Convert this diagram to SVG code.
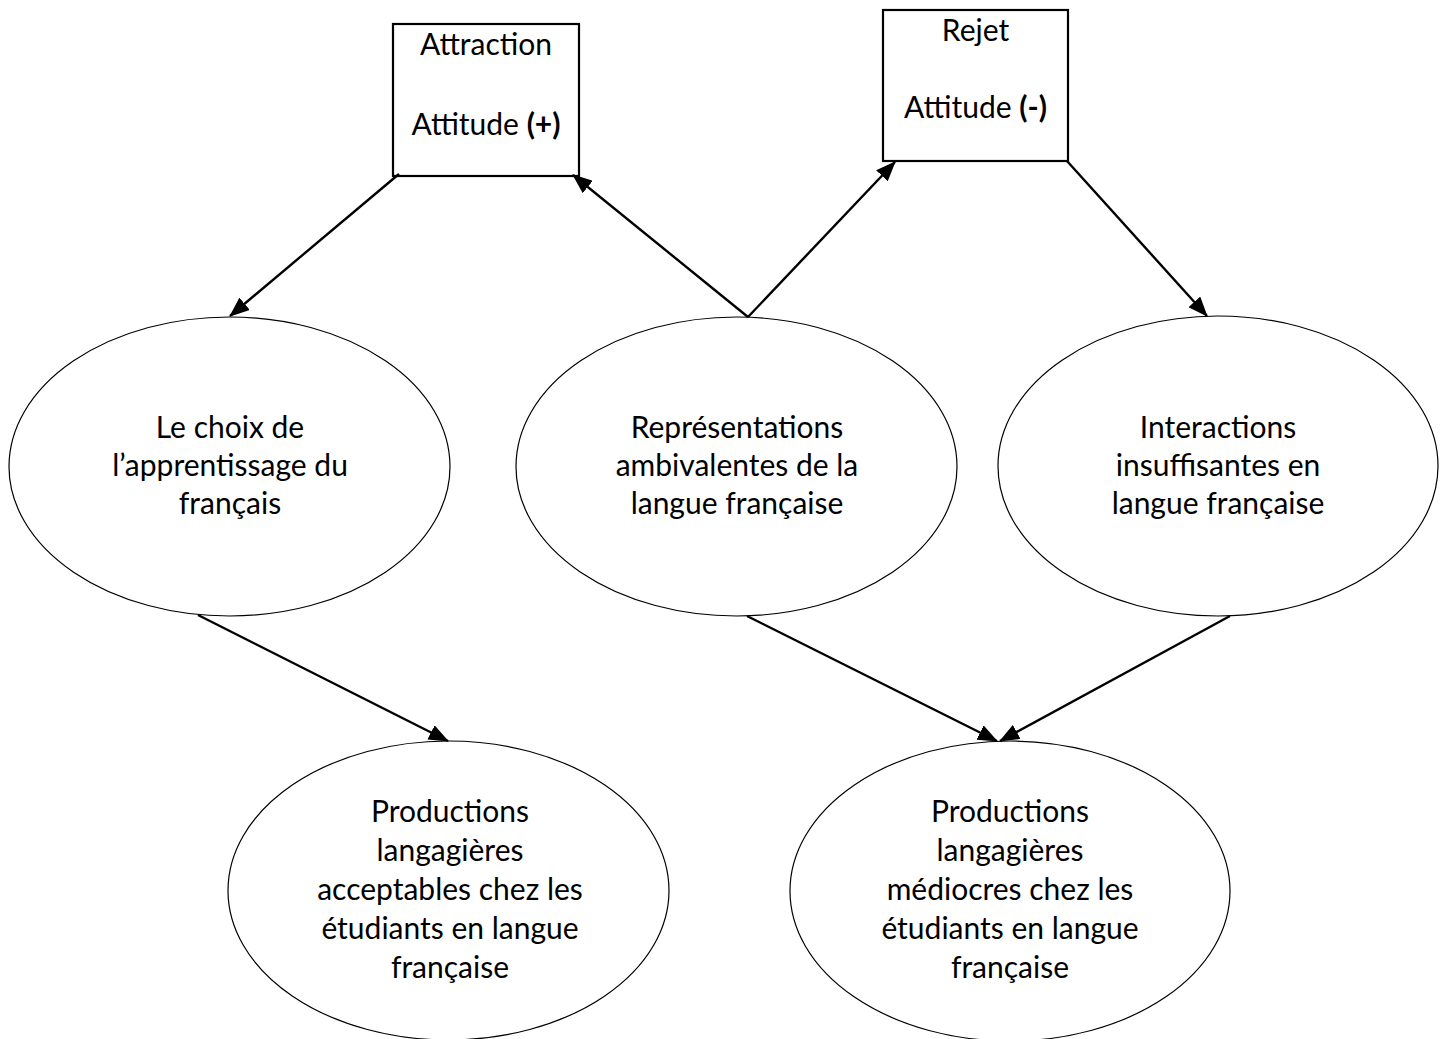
<svg xmlns="http://www.w3.org/2000/svg" width="1448" height="1039" viewBox="0 0 1448 1039">
<style>
  .box { fill: #fff; stroke: #000; stroke-width: 2.2; }
  .ell { fill: #fff; stroke: #000; stroke-width: 1.2; }
  .t { font-family: Lato, "Liberation Sans", sans-serif; font-size: 30px; fill: #000; text-anchor: middle; }
  .b { font-weight: bold; }
  .c { stroke: #000; stroke-width: 2.4; fill: none; marker-end: url(#arr); }
</style>
<defs>
  <marker id="arr" viewBox="0 0 20 16" refX="19" refY="8" markerWidth="20" markerHeight="16" markerUnits="userSpaceOnUse" orient="auto">
    <path d="M0,0 L20,8 L0,16 Z" fill="#000"/>
  </marker>
</defs>
<rect width="1448" height="1039" fill="#fff"/>

<g id="attraction">
  <rect class="box" x="393" y="24" width="186" height="152"/>
  <text class="t" x="486" y="55">Attraction</text>
  <text class="t" x="486" y="135">Attitude <tspan class="b">(+)</tspan></text>
</g>
<g id="rejet">
  <rect class="box" x="883" y="10" width="185" height="151"/>
  <text class="t" x="975.5" y="41">Rejet</text>
  <text class="t" x="975.5" y="118">Attitude <tspan class="b">(-)</tspan></text>
</g>
<g id="choix">
  <ellipse class="ell" cx="229.5" cy="466.5" rx="220.5" ry="149.5"/>
  <text class="t" x="230" y="438">Le choix de</text>
  <text class="t" x="230" y="476">l’apprentissage du</text>
  <text class="t" x="230" y="514">français</text>
</g>
<g id="representations">
  <ellipse class="ell" cx="736.5" cy="466.5" rx="220.5" ry="149.5"/>
  <text class="t" x="737" y="438">Représentations</text>
  <text class="t" x="737" y="476">ambivalentes de la</text>
  <text class="t" x="737" y="514">langue française</text>
</g>
<g id="interactions">
  <ellipse class="ell" cx="1218" cy="466" rx="220" ry="150"/>
  <text class="t" x="1218" y="438">Interactions</text>
  <text class="t" x="1218" y="476">insuffisantes en</text>
  <text class="t" x="1218" y="514">langue française</text>
</g>
<g id="acceptables">
  <ellipse class="ell" cx="448.5" cy="890.5" rx="220.5" ry="149.5"/>
  <text class="t" x="450" y="822">Productions</text>
  <text class="t" x="450" y="861">langagières</text>
  <text class="t" x="450" y="900">acceptables chez les</text>
  <text class="t" x="450" y="939">étudiants en langue</text>
  <text class="t" x="450" y="978">française</text>
</g>
<g id="mediocres">
  <ellipse class="ell" cx="1010" cy="891" rx="220" ry="150"/>
  <text class="t" x="1010" y="822">Productions</text>
  <text class="t" x="1010" y="861">langagières</text>
  <text class="t" x="1010" y="900">médiocres chez les</text>
  <text class="t" x="1010" y="939">étudiants en langue</text>
  <text class="t" x="1010" y="978">française</text>
</g>

<g id="connectors">
  <line class="c" x1="399" y1="174" x2="230" y2="316"/>
  <line class="c" x1="748" y1="317" x2="573" y2="175"/>
  <line class="c" x1="748" y1="317" x2="895" y2="162"/>
  <line class="c" x1="1067" y1="161" x2="1207" y2="316"/>
  <line class="c" x1="198" y1="615" x2="448" y2="741"/>
  <line class="c" x1="747" y1="616" x2="997" y2="741"/>
  <line class="c" x1="1230" y1="616" x2="1000" y2="741"/>
</g>
</svg>
